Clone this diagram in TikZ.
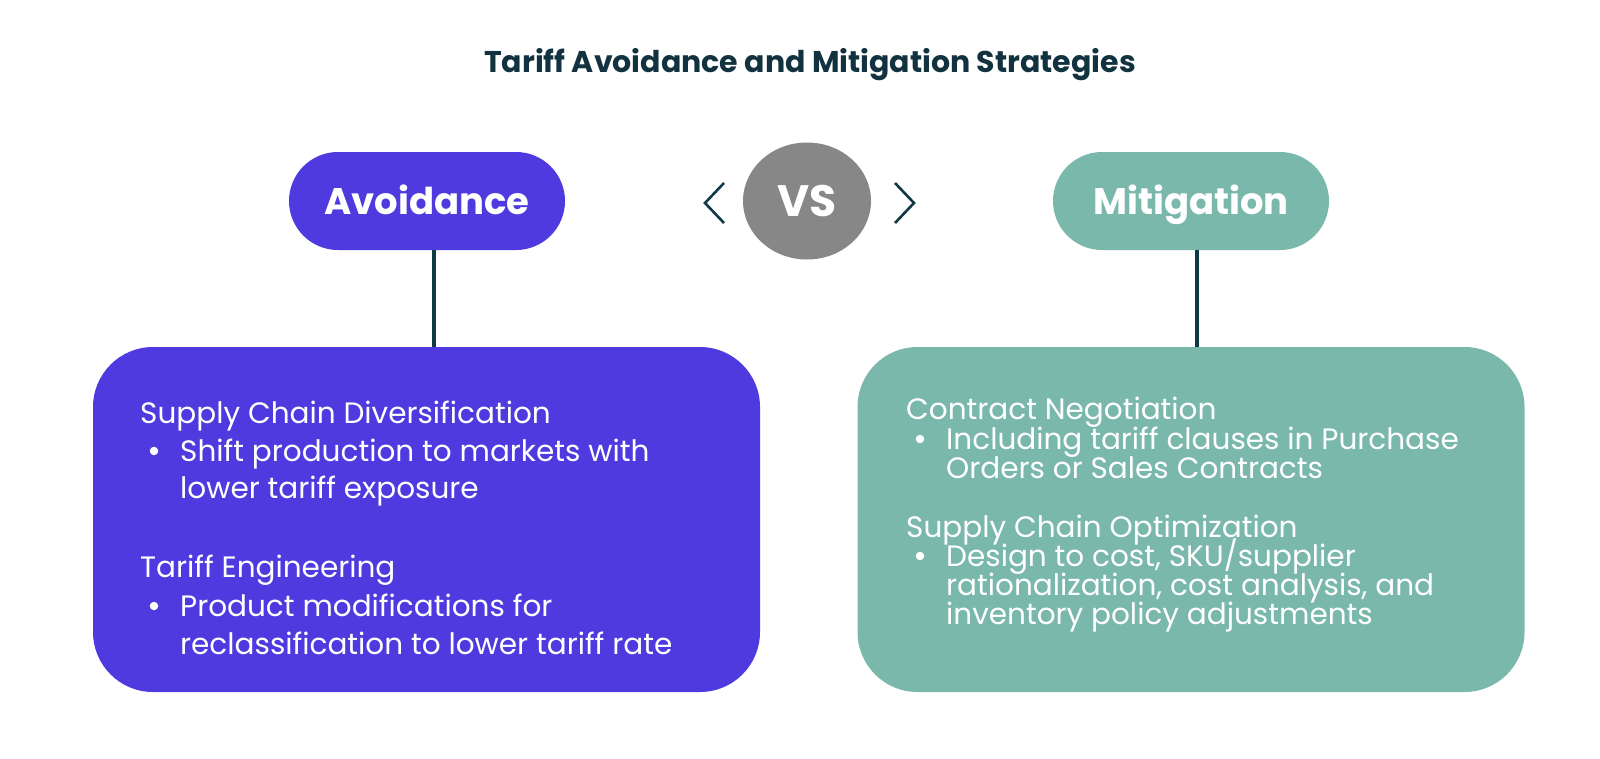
\documentclass[tikz,border=0pt]{standalone}
\usepackage{fontspec}
\setmainfont{Poppins}
\usetikzlibrary{calc,shapes.geometric}
\definecolor{purp}{HTML}{4F3ADF}
\definecolor{teal}{HTML}{7AB8AB}
\definecolor{darkline}{HTML}{0F3A45}
\definecolor{titlec}{HTML}{12323F}
\definecolor{vsgray}{HTML}{878787}
\begin{document}
\begin{tikzpicture}[x=1pt,y=-1pt,
  pill/.style={rounded corners=49pt, minimum width=276pt, minimum height=98pt, inner sep=0pt, text=white, text height=26pt, text depth=0pt, font=\fontsize{37}{42}\selectfont\bfseries},
  bigbox/.style={rounded corners=60pt, minimum width=667pt, minimum height=345pt, inner sep=0pt},
  conn/.style={draw=darkline, line width=4pt},
  chev/.style={draw=darkline, line width=2.6pt},
  body/.style={text=white, font=\fontsize{29.5}{34}\selectfont, inner sep=0pt, anchor=base west},
  dot/.style={circle, fill=white, inner sep=0pt, minimum size=8.5pt}
]
\useasboundingbox (0,0) rectangle (1600,758);
\fill[white] (0,0) rectangle (1600,758);

\node[text=titlec, font=\fontsize{30}{34}\selectfont\bfseries, text height=21pt, text depth=0pt, inner sep=0pt] (title) at (810,62) {Tariff Avoidance and Mitigation Strategies};

\node[pill, fill=purp] (av) at (427,201) {Avoidance};
\node[pill, fill=teal] (mi) at (1191,201) {Mitigation};

\node[ellipse, fill=vsgray, minimum width=128pt, minimum height=117pt, inner sep=0pt, text=white, text height=31pt, text depth=0pt, font=\fontsize{44}{50}\selectfont\bfseries] (vs) at (807,201) {VS};
\coordinate (cl1) at (724,183);
\coordinate (cl2) at (705,203);
\coordinate (cl3) at (724,223);
\draw[chev] (cl1) -- (cl2) -- (cl3);
\coordinate (cr1) at (895,183);
\coordinate (cr2) at (914,203);
\coordinate (cr3) at (895,223);
\draw[chev] (cr1) -- (cr2) -- (cr3);

\node[bigbox, fill=purp] (lbox) at (426.5,519.5) {};
\node[bigbox, fill=teal] (rbox) at (1191,519.5) {};

\draw[conn] ([xshift=7pt]av.south) -- ([xshift=7pt]av.south |- lbox.north);
\draw[conn] ([xshift=6pt]mi.south) -- ([xshift=6pt]mi.south |- rbox.north);

% left text
\node[body] (l1) at (140,423) {Supply Chain Diversification};
\node[dot] (d1) at (154,451) {};
\node[body] (l2) at (180,461) {Shift production to markets with};
\node[body] (l3) at (180,498) {lower tariff exposure};
\node[body] (l4) at (140,577) {Tariff Engineering};
\node[dot] (d2) at (154,606) {};
\node[body] (l5) at (180,616) {Product modifications for};
\node[body] (l6) at (180,654) {reclassification to lower tariff rate};

% right text
\node[body] (r1) at (906,419) {Contract Negotiation};
\node[dot] (d3) at (920,439) {};
\node[body] (r2) at (946,449) {Including tariff clauses in Purchase};
\node[body] (r3) at (946,478) {Orders or Sales Contracts};
\node[body] (r4) at (906,537) {Supply Chain Optimization};
\node[dot] (d4) at (920,556) {};
\node[body] (r5) at (946,566) {Design to cost, SKU/supplier};
\node[body] (r6) at (946,595) {rationalization, cost analysis, and};
\node[body] (r7) at (946,624) {inventory policy adjustments};
\end{tikzpicture}
\end{document}
